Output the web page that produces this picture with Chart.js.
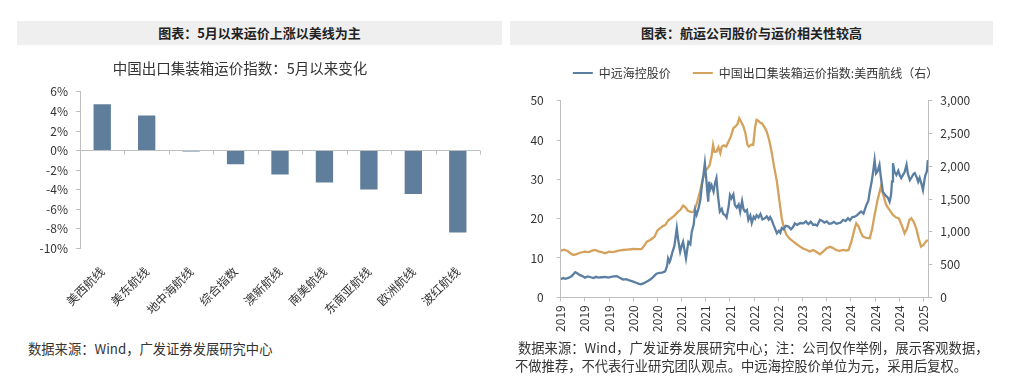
<!DOCTYPE html>
<html>
<head>
<meta charset="utf-8">
<script src="https://cdn.jsdelivr.net/npm/chart.js@4.4.1/dist/chart.umd.min.js"></script>
<style>
  html, body { margin: 0; padding: 0; background: #fff; }
  body { width: 1024px; height: 379px; position: relative; overflow: hidden; font-family: 'Noto Sans CJK SC', sans-serif; }
  .bar { position: absolute; top: 21px; height: 24px; background: #efefef; color: #222; font-weight: bold; font-size: 13px; line-height: 24px; text-align: center; }
  .src { position: absolute; color: #333; font-size: 13.3px; line-height: 18px; white-space: nowrap; }
  canvas { position: absolute; }
</style>
</head>
<body>
<div class="bar" style="left:17px;width:485px;">图表：5月以来运价上涨以美线为主</div>
<div class="bar" style="left:510px;width:483px;">图表：航运公司股价与运价相关性较高</div>
<canvas id="c1" width="520" height="270" style="left:0;top:50px;width:520px;height:270px;"></canvas>
<canvas id="c2" width="491" height="295" style="left:510px;top:45px;width:491px;height:295px;"></canvas>
<div class="src" style="left:28px;top:340px;">数据来源：Wind，广发证券发展研究中心</div>
<div class="src" style="left:515px;top:339px;"><span style="padding-left:3px">数据来源：Wind，广发证券发展研究中心；注：公司仅作举例，展示客观数据，</span><br>不做推荐，不代表行业研究团队观点。中远海控股价单位为元，采用后复权。</div>
<script>
// ---------- Left chart data ----------
const routes = ['美西航线','美东航线','地中海航线','综合指数','澳新航线','南美航线','东南亚航线','欧洲航线','波红航线'];
const changePct = [4.74, 3.58, -0.1, -1.39, -2.45, -3.27, -3.98, -4.45, -8.38];
const pctTicks = { min: -10, max: 6, step: 2 };

// ---------- Right chart data (x = months since Jan 2019) ----------
const stockMonths = [0,0.5,1,1.7,2.3,3,3.4,3.9,4.5,5,5.6,6.2,6.8,7.3,7.8,8.5,9.2,9.8,10.4,11,11.6,12.2,12.9,13.5,14.2,15,15.6,16.2,16.6,17.2,18.1,18.5,19,19.4,19.8,20.4,21,21.6,22,22.2,22.5,22.7,23.1,23.5,24,24.3,24.7,25,25.3,25.6,25.9,26.2,26.4,26.8,27.1,27.5,27.8,28.1,28.5,28.9,29.2,29.5,29.8,30.1,30.3,30.5,30.7,30.9,31.2,31.6,31.9,32.2,32.5,32.9,33.3,33.6,34,34.3,34.7,35,35.3,35.7,36,36.4,36.8,37.1,37.5,37.8,38.1,38.5,38.8,39.2,39.5,39.9,40.2,40.5,40.9,41.3,41.7,42.2,42.6,43,43.3,43.6,44,44.4,44.7,45.1,45.4,45.7,46.1,46.5,47.1,47.6,48,48.4,48.9,49.5,50.2,50.7,51.2,51.7,52.2,52.6,53,53.6,54,54.5,55,55.5,56,56.5,57,57.3,57.9,58.4,58.9,59.4,59.8,60.3,60.8,61.3,61.7,62.1,62.6,63.2,63.6,63.9,64.3,64.6,64.9,65.2,65.5,65.9,66.2,66.6,67.1,67.7,68,68.3,68.5,68.7,69,69.4,69.8,70.1,70.4,70.8,71.1,71.5,71.8,72.2,72.6,72.9,73.2,73.6,73.9,74.2,74.6,74.9,75.2,75.4,75.7,75.9];
const stockPrice = [4.6,4.9,4.7,5.0,5.4,6.4,6.1,5.7,5.4,5.0,5.3,5.1,4.9,5.2,5.0,5.1,5.2,5.0,5.2,5.3,5.4,5.0,4.5,4.6,4.3,4.0,3.7,3.4,3.3,3.6,4.2,4.5,5.0,5.5,6.0,6.2,6.3,6.6,8.0,9.9,9.0,9.6,11.5,13.0,17.6,14.5,11.6,13.0,14.1,12.0,9.9,12.5,14.1,13.5,16.7,18.5,22.2,21.0,22.6,25.0,28.6,31.0,34.1,30.0,27.0,24.3,29.4,27.5,28.5,26.9,29.0,30.3,26.0,21.8,22.5,21.2,20.9,20.3,23.0,26.0,25.2,26.2,23.5,22.8,23.6,21.8,24.5,22.4,21.8,22.2,19.7,20.8,18.9,20.5,20.0,20.9,20.3,21.2,19.8,20.1,20.6,19.8,20.4,19.7,18.4,17.2,16.3,16.9,16.4,17.6,17.3,18.2,18.0,17.3,17.8,18.8,18.4,18.9,18.8,19.3,18.6,19.2,18.4,18.5,18.2,19.7,19.5,19.0,19.3,18.7,18.8,19.2,18.7,18.8,19.0,19.7,19.4,20.1,19.6,20.4,20.5,20.9,21.4,21.8,21.3,23.5,24.5,26.9,29.5,32.0,34.9,31.5,32.0,33.7,30.5,26.9,26.0,25.2,24.3,26.0,29.5,34.1,32.0,31.1,32.2,31.0,30.3,31.2,31.8,33.7,31.3,29.8,30.6,31.3,31.6,30.5,29.4,30.4,28.8,27.3,29.8,31.1,32.0,34.9];
const freightMonths = [0,0.7,1.4,2,2.6,3.3,4,5,5.8,6.5,7.1,7.8,8.5,9.2,10,10.7,11.2,12,12.9,13.8,15,15.8,16.7,17.3,17.8,18.5,19.4,20,20.5,21.2,21.6,22.3,22.9,23.4,24.2,24.8,25.3,25.7,26.3,27,27.5,28.1,28.8,29.3,29.8,30.3,30.8,31.2,31.5,31.8,32.2,32.6,33,33.3,33.7,34.2,34.7,35.2,35.7,36.2,36.6,36.9,37.3,37.8,38.2,38.6,38.9,39.4,39.8,40.2,40.5,40.9,41.3,41.6,42.1,42.6,43.1,43.6,44.1,44.7,45.2,45.7,46.2,46.7,47.4,48.1,48.8,49.5,50.2,50.9,51.5,52.2,52.9,53.6,54.3,55,55.7,56.4,57,57.7,58.4,59,59.5,60.1,60.6,61.1,61.6,62.1,62.5,63.2,63.9,64.4,64.9,65.5,66.2,66.7,67.3,68,68.7,69.3,69.9,70.5,71.1,71.6,72.1,72.5,73,73.5,74,74.5,75,75.5,75.9];
const freightIndex = [712,725,707,672,646,660,680,697,690,712,722,700,690,671,697,690,697,712,722,728,737,735,737,790,849,875,925,1020,1053,1090,1103,1180,1210,1240,1300,1340,1400,1380,1320,1300,1307,1420,1612,1780,1918,1960,2018,2160,2325,2220,2223,2290,2200,2300,2320,2300,2376,2460,2580,2610,2650,2733,2680,2605,2500,2330,2300,2330,2325,2600,2707,2690,2660,2656,2600,2528,2400,2223,2000,1765,1480,1206,1040,951,890,849,810,773,740,722,700,722,690,656,700,748,770,748,720,710,722,712,722,849,1000,1130,1080,980,925,905,900,1050,1256,1480,1689,1560,1409,1330,1256,1220,1205,1100,977,1050,1180,1206,1150,1053,900,773,800,850,875];
const startYear = 2019;

const FONT = "'Noto Sans CJK SC', sans-serif";
const AXIS = '#bfbfbf';
const TXT = '#333';
const BAR = '#5f7e9c';
const BLUE = '#5b7fa3';
const ORANGE = '#d4a25c';

// ---------- Left: bar chart ----------
const zeroTicks = {
  id: 'zeroTicks',
  afterDatasetsDraw(chart) {
    const x = chart.scales.x, y = chart.scales.y, ctx = chart.ctx;
    const y0 = y.getPixelForValue(0);
    const half = (x.getPixelForValue(1) - x.getPixelForValue(0)) / 2;
    ctx.save();
    ctx.strokeStyle = AXIS; ctx.lineWidth = 1;
    for (let i = 0; i < routes.length; i++) {
      const px = Math.round(x.getPixelForValue(i) + half) + 0.5;
      ctx.beginPath(); ctx.moveTo(px, y0); ctx.lineTo(px, y0 + 4); ctx.stroke();
    }
    ctx.restore();
  }
};

new Chart(document.getElementById('c1'), {
  type: 'bar',
  data: { labels: routes, datasets: [{ data: changePct, backgroundColor: BAR, barPercentage: 0.39, categoryPercentage: 1 }] },
  options: {
    responsive: false, animation: false, devicePixelRatio: 1,
    layout: { padding: { left: 0, right: 40, top: 0, bottom: 0 } },
    plugins: {
      legend: { display: false }, tooltip: { enabled: false },
      title: { display: true, text: '中国出口集装箱运价指数：5月以来变化', color: TXT, font: { family: FONT, size: 14.5, weight: 'normal' }, padding: { top: 10, bottom: 14.5 } }
    },
    scales: {
      x: {
        grid: { display: false }, border: { display: false },
        ticks: { autoSkip: false, maxRotation: 45, minRotation: 45, color: TXT, font: { family: FONT, size: 12 }, padding: 8 },
        afterFit(s) { s.height = 71.7; }
      },
      y: {
        min: pctTicks.min, max: pctTicks.max,
        ticks: { stepSize: pctTicks.step, color: TXT, font: { family: FONT, size: 12 }, padding: 8, callback: v => v + '%' },
        grid: { color: c => (c.tick && c.tick.value === 0) ? AXIS : 'transparent', tickColor: AXIS, tickLength: 4 },
        border: { color: AXIS },
        afterFit(s) { s.width = 80; }
      }
    }
  },
  plugins: [zeroTicks]
});

// ---------- Right: dual-axis line chart ----------
const pts = (xs, ys) => xs.map((x, i) => ({ x: x, y: ys[i] }));
new Chart(document.getElementById('c2'), {
  type: 'line',
  data: {
    datasets: [
      { label: '中远海控股价', data: pts(stockMonths, stockPrice), borderColor: BLUE, backgroundColor: BLUE, borderWidth: 2.3, pointRadius: 0, tension: 0, xAxisID: 'x', yAxisID: 'y' },
      { label: '中国出口集装箱运价指数:美西航线（右）', data: pts(freightMonths, freightIndex), borderColor: ORANGE, backgroundColor: ORANGE, borderWidth: 2.3, pointRadius: 0, tension: 0, xAxisID: 'x', yAxisID: 'y1' }
    ]
  },
  options: {
    responsive: false, animation: false, devicePixelRatio: 1,
    layout: { padding: 0 },
    plugins: {
      tooltip: { enabled: false },
      legend: {
        display: true, position: 'top',
        labels: {
          boxWidth: 20, boxHeight: 2, padding: 22, color: TXT, font: { family: FONT, size: 12 },
          generateLabels: (chart) => Chart.defaults.plugins.legend.labels.generateLabels(chart).map(l => Object.assign(l, { lineWidth: 0, fillStyle: l.strokeStyle }))
        }
      }
    },
    scales: {
      x: {
        type: 'linear', min: 0, max: 76,
        ticks: { stepSize: 5, includeBounds: false, autoSkip: false, maxRotation: 90, minRotation: 90, color: TXT, font: { family: FONT, size: 12 }, padding: 4,
                 callback: v => String(startYear + Math.floor(v / 12)) },
        grid: { drawOnChartArea: false, tickLength: 4, color: AXIS, tickColor: AXIS },
        border: { color: AXIS },
        afterFit(s) { s.height = 42.7; }
      },
      gap: {
        type: 'linear', position: 'top', display: true, min: 0, max: 76,
        grid: { display: false, drawTicks: false }, border: { display: false }, ticks: { display: false },
        afterFit(s) { s.height = 11.7; }
      },
      y: {
        position: 'left', min: 0, max: 50,
        ticks: { stepSize: 10, color: TXT, font: { family: FONT, size: 12 }, padding: 13 },
        grid: { drawOnChartArea: false, tickLength: 4, color: AXIS, tickColor: AXIS },
        border: { color: AXIS },
        afterFit(s) { s.width = 50.7; }
      },
      y1: {
        position: 'right', min: 0, max: 3000,
        ticks: { stepSize: 500, color: TXT, font: { family: FONT, size: 12 }, padding: 8, callback: v => v.toLocaleString('en-US') },
        grid: { drawOnChartArea: false, tickLength: 4, color: AXIS, tickColor: AXIS },
        border: { color: AXIS },
        afterFit(s) { s.width = 72.7; }
      }
    }
  }
});
</script>
</body>
</html>
